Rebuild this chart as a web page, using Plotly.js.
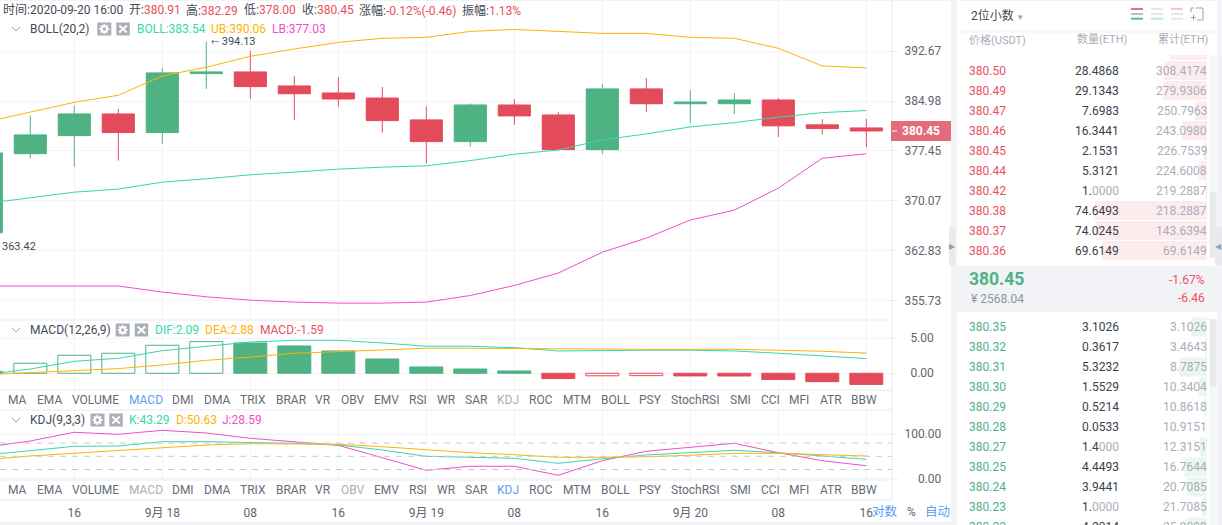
<!DOCTYPE html>
<html>
<head>
<meta charset="utf-8">
<script src="https://cdn.plot.ly/plotly-3.0.1.min.js"></script>
<style>html,body{margin:0;padding:0;background:#fff;overflow:hidden}#chart{width:1222px;height:525px}</style>
</head>
<body>
<div id="chart"></div>
<script>
// ---------- data ----------
const times = ['2020-09-17 08:00','2020-09-17 12:00','2020-09-17 16:00','2020-09-17 20:00','2020-09-18 00:00','2020-09-18 04:00','2020-09-18 08:00','2020-09-18 12:00','2020-09-18 16:00','2020-09-18 20:00','2020-09-19 00:00','2020-09-19 04:00','2020-09-19 08:00','2020-09-19 12:00','2020-09-19 16:00','2020-09-19 20:00','2020-09-20 00:00','2020-09-20 04:00','2020-09-20 08:00','2020-09-20 12:00','2020-09-20 16:00'];
const open  = [365.44,377.05,379.75,383.02,380.21,389.18,389.44,387.29,386.21,385.44,382.12,378.85,384.38,382.87,377.65,386.83,384.57,384.57,385.14,381.37,380.91];
const high  = [377.30,382.77,384.27,383.78,390.01,394.13,392.67,388.83,388.63,387.13,384.18,384.63,385.29,383.32,387.59,388.47,386.67,386.21,385.44,382.23,382.29];
const low   = [363.42,376.31,375.09,376.02,378.55,386.83,385.33,382.12,384.12,380.21,375.63,378.10,381.37,377.60,377.01,383.32,381.67,383.02,379.56,379.95,378.00];
const close = [377.15,379.86,383.02,380.21,389.29,389.44,387.18,386.10,385.29,382.01,378.85,384.38,382.72,377.65,386.83,384.57,384.83,385.14,381.22,380.81,380.45];
const bollUb  = [381.82,383.32,384.78,385.86,388.83,390.16,391.85,392.98,394.02,394.65,394.80,395.73,396.04,395.73,395.42,395.42,394.80,394.65,393.09,390.36,390.06];
const bollMid = [369.71,370.56,371.35,371.80,372.83,373.32,373.91,374.31,374.75,375.04,375.24,376.02,376.96,377.60,379.11,380.01,381.06,381.71,382.53,383.22,383.54];
const bollLb  = [357.82,357.82,357.82,357.82,356.97,356.30,355.83,355.55,355.41,355.41,355.55,356.48,357.90,359.66,362.64,364.67,367.28,368.72,371.94,376.37,377.03];
const macdHist = [0.25,1.43,2.57,2.86,4.00,4.52,4.33,3.90,3.19,2.04,0.90,0.61,0.33,-0.76,-0.36,-0.34,-0.38,-0.39,-0.90,-1.20,-1.59];
const macdDif  = [-0.20,0.61,1.71,2.14,3.23,3.80,4.47,4.71,4.71,4.33,3.86,3.86,3.66,3.19,3.29,3.29,3.29,3.19,2.86,2.43,2.09];
const macdDea  = [-0.20,0.10,0.37,0.66,1.19,1.85,2.30,2.86,3.09,3.33,3.57,3.57,3.51,3.51,3.43,3.43,3.43,3.43,3.29,3.14,2.88];
const kdjK = [53,63,72.7,73.4,83.2,83.2,81.8,79.5,75.7,64.3,50,48.4,45.5,34,44.5,53,58.2,63.6,58.2,50.7,43.29];
const kdjD = [42.7,50.7,56.8,63.6,70.5,75.7,78.6,78,77.3,71.8,65,58.2,53.6,47.7,47.7,49,52.3,56.8,56.8,54.5,50.63];
const kdjJ = [71,84.8,104.5,100,109,103,90.9,82.5,75,46.8,18.2,27.3,27.3,6.8,40,61.4,70.5,79.5,58.2,40,28.59];
const xTickVals = ['2020-09-17 16:00','2020-09-18 00:00','2020-09-18 08:00','2020-09-18 16:00','2020-09-19 00:00','2020-09-19 08:00','2020-09-19 16:00','2020-09-20 00:00','2020-09-20 08:00','2020-09-20 16:00'];
const xTickText = ['16','9月 18','08','16','9月 19','08','16','9月 20','08','16'];
const priceTicks = [392.67,384.98,377.45,370.07,362.83,355.73];
const macdTicks = [5,0];
const kdjTicks = [100,0];
const kdjLevels = [80,50,20];
const tabNames = ['MA','EMA','VOLUME','MACD','DMI','DMA','TRIX','BRAR','VR','OBV','EMV','RSI','WR','SAR','KDJ','ROC','MTM','BOLL','PSY','StochRSI','SMI','CCI','MFI','ATR','BBW'];
const tabCenters = [17,49,95.7,145.7,183,217,253,291,323,352.7,386.7,418,446,476,508,541,576.7,615,650,695,740,770,799.3,830.7,864.3];
const askPrice = ['380.50','380.49','380.47','380.46','380.45','380.44','380.42','380.38','380.37','380.36'];
const askQty   = ['28.4868','29.1343','7.6983','16.3441','2.1531','5.3121','1.0000','74.6493','74.0245','69.6149'];
const askCum   = ['308.4174','279.9306','250.7963','243.0980','226.7539','224.6008','219.2887','218.2887','143.6394','69.6149'];
const askAboveQty = 24.7;
const bidPrice = ['380.35','380.32','380.31','380.30','380.29','380.28','380.27','380.25','380.24','380.23','380.22'];
const bidQty   = ['3.1026','0.3617','5.3232','1.5529','0.5214','0.0533','1.4000','4.4493','3.9441','1.0000','4.2014'];
const bidCum   = ['3.1026','3.4643','8.7875','10.3404','10.8618','10.9151','12.3151','16.7644','20.7085','21.7085','25.9099'];

// ---------- style ----------
const W = 1222, H = 525;
const FONT = 'Roboto, "Noto Sans CJK SC", sans-serif';
const GREEN = '#4EB283', RED = '#E34B5B', TEAL = '#37D6B0', ORANGE = '#FFB300', MAGENTA = '#F04EC8';
const VAL_RED = '#E8505F', TXT = '#444A55', AXIS_TXT = '#5F6570', TAB = '#666C78', DIM = '#A9AEB9', BLUE = '#5B9CF6';
const GRID = '#F3F4F7', BORDER = '#E8EAEE', BAND = '#F2F3F7';
const px = x => x / W, py = y => 1 - y / H;
const dom = (top, bottom) => [1 - bottom / H, 1 - top / H];

// ---------- helpers ----------
const shapes = [], annotations = [];
const rect = (x0, y0, x1, y1, color, layer) => shapes.push({type:'rect', xref:'paper', yref:'paper', x0:px(x0), x1:px(x1), y0:py(y0), y1:py(y1), fillcolor:color, line:{width:0}, layer:layer||'above'});
const seg = (x0, y0, x1, y1, color, w, dash) => shapes.push({type:'line', xref:'paper', yref:'paper', x0:px(x0), x1:px(x1), y0:py(y0), y1:py(y1), line:{color:color, width:w||1, dash:dash||'solid'}, layer:'above'});
const disc = (cx, cy, r, color) => shapes.push({type:'circle', xref:'paper', yref:'paper', x0:px(cx-r), x1:px(cx+r), y0:py(cy-r), y1:py(cy+r), fillcolor:color, line:{width:0}, layer:'above'});
const label = (x, y, text, color, size, anchor, extra) => {
  const a = anchor || 'left';
  const nudged = a === 'left' ? x - 1 : a === 'right' ? x + 1 : x;
  annotations.push(Object.assign({xref:'paper', yref:'paper', x:px(nudged), y:py(y), text:text, showarrow:false, xanchor:a, yanchor:'middle', borderpad:0, font:{family:FONT, size:size||12, color:color||TXT}}, extra||{}));
};

// backgrounds
rect(951, 0, 957, H, BAND, 'below');
rect(1217, 0, W, H, BAND, 'below');
rect(0, 0, W, 1, BAND, 'below');
rect(0, 521.5, 951, H, BAND, 'below');
rect(957, 266, 1217, 312, BAND, 'below');
// pane borders
[320, 390, 410, 480, 500].forEach(y => seg(0, y, 892, y, BORDER));
seg(892, 1, 892, 500, BORDER);
seg(957, 32, 1217, 32, '#F0F1F4');

// top quote line
const quote = [[2.7,'时间:2020-09-20 16:00',null],[128.7,'开:','380.91'],[186,'高:','382.29'],[244,'低:','378.00'],[302,'收:','380.45'],[359.3,'涨幅:','-0.12%(-0.46)'],[462.3,'振幅:','1.13%']];
quote.forEach(q => label(q[0], 10, q[2] ? q[1] + '<span style="color:' + VAL_RED + '">' + q[2] + '</span>' : q[1], TXT, 12));

// indicator title rows
const chevron = y => shapes.push({type:'path', xref:'paper', yref:'paper', path:'M ' + px(12) + ' ' + py(y-2) + ' L ' + px(16) + ' ' + py(y+2) + ' L ' + px(20) + ' ' + py(y-2), line:{color:'#9AA0AA', width:1}, layer:'above'});
const toolIcons = (gx, xx, y) => {
  rect(gx, y-6.5, gx+14, y+6.5, DIM);
  const cx = gx + 7;
  seg(cx-5, y, cx+5, y, '#FFFFFF', 1.8);
  seg(cx, y-5, cx, y+5, '#FFFFFF', 1.8);
  seg(cx-3.5, y-3.5, cx+3.5, y+3.5, '#FFFFFF', 1.8);
  seg(cx-3.5, y+3.5, cx+3.5, y-3.5, '#FFFFFF', 1.8);
  disc(cx, y, 3.7, '#FFFFFF');
  disc(cx, y, 1.7, DIM);
  rect(xx, y-6.5, xx+13.5, y+6.5, DIM);
  seg(xx+3, y-3.5, xx+10.5, y+3.5, '#FFFFFF', 2);
  seg(xx+3, y+3.5, xx+10.5, y-3.5, '#FFFFFF', 2);
};
chevron(29); label(30, 29, 'BOLL(20,2)', TXT, 12); toolIcons(97.3, 116.3, 29);
label(137, 29, 'BOLL:383.54', TEAL); label(211, 29, 'UB:390.06', ORANGE); label(272, 29, 'LB:377.03', MAGENTA);
chevron(330); label(30, 330, 'MACD(12,26,9)', TXT, 12); toolIcons(115.7, 134.7, 330);
label(155, 330, 'DIF:2.09', TEAL); label(205, 330, 'DEA:2.88', ORANGE); label(260, 330, 'MACD:-1.59', VAL_RED);
chevron(420); label(30, 420, 'KDJ(9,3,3)', TXT, 12); toolIcons(90.5, 109.3, 420);
label(129, 420, 'K:43.29', TEAL); label(176, 420, 'D:50.63', ORANGE); label(222, 420, 'J:28.59', MAGENTA);

// high / low marks
label(210.5, 41, '<span style="font-size:8px">←</span> 394.13', TXT, 11);
label(2, 246, '363.42', TXT, 11);

// indicator tabs
tabNames.forEach((name, i) => {
  label(tabCenters[i], 400, name, name === 'MACD' ? BLUE : name === 'KDJ' ? DIM : TAB, 12, 'center');
  label(tabCenters[i], 490, name, name === 'KDJ' ? BLUE : (name === 'MACD' || name === 'OBV') ? DIM : TAB, 12, 'center');
});

// bottom axis controls
label(871.7, 511.5, '对数', BLUE, 12.5);
label(907, 511.5, '%', AXIS_TXT, 12);
label(925, 511.5, '自动', BLUE, 12.5);

// last price tag
rect(891, 121, 951, 141, '#E46B7A');
seg(892, 131, 897, 131, '#FFFFFF');
label(921, 131, '<b>380.45</b>', '#FFFFFF', 12, 'center');

// order book header
label(971, 15, '2位小数', TXT, 12);
label(1018, 17, '▾', '#9AA0AA', 9, 'left');
const icon = (x, c1, c2, c3) => { seg(x, 9, x+12, 9, c1, 2); seg(x, 14, x+12, 14, c2, 2); seg(x, 18.7, x+12, 18.7, c3, 2); };
icon(1131, '#E8707D', '#B9BDC6', '#5DBB92');
icon(1151, '#E4E6EB', '#E4E6EB', '#BFE5D3');
icon(1171, '#F6C6CB', '#E4E6EB', '#E4E6EB');
shapes.push({type:'path', xref:'paper', yref:'paper', path:'M ' + px(1196) + ' ' + py(8) + ' L ' + px(1203) + ' ' + py(8) + ' L ' + px(1203) + ' ' + py(20) + ' L ' + px(1197) + ' ' + py(20), line:{color:'#9AA0AA', width:1}, layer:'above'});
seg(1191, 8, 1191, 12, '#9AA0AA'); seg(1191, 8, 1194, 8, '#9AA0AA');
seg(1191, 17.5, 1196, 17.5, '#9AA0AA'); seg(1193.5, 15, 1193.5, 20, '#9AA0AA');
label(969, 40, '价格(USDT)', DIM, 11);
label(1128.3, 40, '数量(ETH)', DIM, 11, 'right');
label(1209, 40, '累计(ETH)', DIM, 11, 'right');

// scrollbars and collapse handles
rect(1209.5, 55, 1216.5, 192, '#F6F7F9');
rect(1209.5, 192, 1216.5, 258, BORDER);
rect(1209.5, 319, 1216.5, 387, BORDER);
rect(1209.5, 387, 1216.5, H, '#F6F7F9');
rect(949, 227, 955, 265, BORDER);
rect(1215, 227, 1222, 265, BORDER);
label(952, 246, '▶', '#9AA0AA', 8, 'center', {font:{family:'"DejaVu Sans"', size:8, color:'#9AA0AA'}});
label(1218.5, 246, '◀', '#9AA0AA', 8, 'center', {font:{family:'"DejaVu Sans"', size:8, color:'#9AA0AA'}});

// order book text
const twoTone = s => { const m = s.match(/^(.*?)(0+)$/); return m ? m[1] + '<span style="color:' + DIM + '">' + m[2] + '</span>' : s; };
askPrice.forEach((p, i) => {
  const y = 70.7 + 20 * i;
  label(969, y, p, VAL_RED);
  label(1119, y, twoTone(askQty[i]), '#3C4049', 12, 'right');
  label(1207, y, askCum[i], DIM, 12, 'right');
});
bidPrice.forEach((p, i) => {
  const y = 327 + 20 * i;
  label(969, y, p, GREEN);
  label(1119, y, twoTone(bidQty[i]), '#3C4049', 12, 'right');
  label(1207, y, bidCum[i], DIM, 12, 'right');
});
label(969, 279, '<b>380.45</b>', GREEN, 17.5);
label(971, 299.3, '¥ 2568.04', '#8E939E', 12);
label(1205, 279.5, '-1.67%', '#F0505F', 12, 'right');
label(1205, 298, '-6.46', '#F0505F', 12, 'right');

// KDJ reference levels
kdjLevels.forEach(v => shapes.push({type:'line', xref:'paper', yref:'y3', x0:0, x1:px(892), y0:v, y1:v, line:{color:'#C9CACC', width:1, dash:'6px,6px'}, layer:'above'}));

// ---------- traces ----------
const line = (y, color, xa, ya) => ({type:'scatter', mode:'lines', x:times, y:y, xaxis:xa, yaxis:ya, line:{color:color, width:1}, hoverinfo:'skip'});
const histFill = macdHist.map((v, i) => (i > 0 && v > macdHist[i-1]) ? 'rgba(0,0,0,0)' : (v >= 0 ? GREEN : RED));
const histLine = macdHist.map(v => v >= 0 ? GREEN : RED);
const rowIdx = a => a.map((_, i) => i);
const traces = [
  {type:'candlestick', x:times, open:open, high:high, low:low, close:close, xaxis:'x', yaxis:'y', whiskerwidth:0,
   increasing:{line:{color:GREEN, width:1}, fillcolor:GREEN}, decreasing:{line:{color:RED, width:1}, fillcolor:RED}, hoverinfo:'skip'},
  line(bollUb, ORANGE, 'x', 'y'), line(bollMid, TEAL, 'x', 'y'), line(bollLb, MAGENTA, 'x', 'y'),
  {type:'bar', x:times, y:macdHist, xaxis:'x2', yaxis:'y2', width:10800000, marker:{color:histFill, line:{color:histLine, width:1}}, hoverinfo:'skip'},
  line(macdDif, TEAL, 'x2', 'y2'), line(macdDea, ORANGE, 'x2', 'y2'),
  line(kdjJ, MAGENTA, 'x3', 'y3'), line(kdjK, TEAL, 'x3', 'y3'), line(kdjD, ORANGE, 'x3', 'y3'),
  {type:'bar', orientation:'h', y:rowIdx(askQty).concat([-1]), x:askQty.map(Number).concat([askAboveQty]), width:0.95, xaxis:'x4', yaxis:'y4', marker:{color:'#FDECEE', line:{width:0}}, hoverinfo:'skip'},
  {type:'bar', orientation:'h', y:rowIdx(bidQty), x:bidQty.map(Number), width:0.95, xaxis:'x5', yaxis:'y5', marker:{color:'#EBF6F1', line:{width:0}}, hoverinfo:'skip'}
];

// ---------- axes ----------
const xRange = ['2020-09-17 09:14:44', '2020-09-20 18:20:11'];
const xBase = {type:'date', range:xRange, domain:[0, px(892)], tickmode:'array', tickvals:xTickVals, ticktext:xTickText, showgrid:true, gridcolor:GRID, gridwidth:1, zeroline:false, showline:false, ticks:'', fixedrange:true, rangeslider:{visible:false}};
const yBase = {side:'right', tickmode:'array', showgrid:true, gridcolor:GRID, zeroline:false, showline:false, ticks:'outside', ticklen:5, tickcolor:BORDER, tickwidth:1, ticklabelstandoff:4, tickfont:{family:FONT, size:12, color:AXIS_TXT}, fixedrange:true};
const hidden = {visible:false, fixedrange:true};
const layout = {
  width:W, height:H, margin:{l:0, r:0, t:0, b:0, pad:0}, paper_bgcolor:'#FFFFFF', plot_bgcolor:'rgba(0,0,0,0)',
  showlegend:false, hovermode:false, dragmode:false, barmode:'overlay', boxmode:'overlay', boxgap:0.27, boxgroupgap:0,
  xaxis:Object.assign({}, xBase, {anchor:'y', showticklabels:false}),
  xaxis2:Object.assign({}, xBase, {anchor:'y2', showticklabels:false}),
  xaxis3:Object.assign({}, xBase, {anchor:'y3', showticklabels:true, ticklabelstandoff:24, tickfont:{family:FONT, size:12, color:AXIS_TXT}}),
  yaxis:Object.assign({}, yBase, {anchor:'x', type:'log', domain:dom(1, 320), range:[2.54783, 2.60262], tickvals:priceTicks, ticktext:priceTicks.map(v => v.toFixed(2))}),
  yaxis2:Object.assign({}, yBase, {anchor:'x2', domain:dom(320, 390), range:[-2.39, 7.61], ticklabelstandoff:10, tickvals:macdTicks, ticktext:macdTicks.map(v => v.toFixed(2))}),
  yaxis3:Object.assign({}, yBase, {anchor:'x3', domain:dom(410, 480), range:[-3.86, 155.2], tickvals:kdjTicks, ticktext:kdjTicks.map(v => (v < 100 ? '\u2007\u2007' : '') + v.toFixed(2))}),
  xaxis4:Object.assign({}, hidden, {anchor:'y4', domain:[px(957), px(1207)], range:[166.67, 0]}),
  yaxis4:Object.assign({}, hidden, {anchor:'x4', domain:dom(55, 265), range:[9.725, -0.775]}),
  xaxis5:Object.assign({}, hidden, {anchor:'y5', domain:[px(957), px(1207)], range:[48.54, 0]}),
  yaxis5:Object.assign({}, hidden, {anchor:'x5', domain:dom(312, 525), range:[9.9, -0.75]}),
  shapes:shapes, annotations:annotations
};
Plotly.newPlot('chart', traces, layout, {displayModeBar:false, staticPlot:true, responsive:false});
</script>
</body>
</html>
